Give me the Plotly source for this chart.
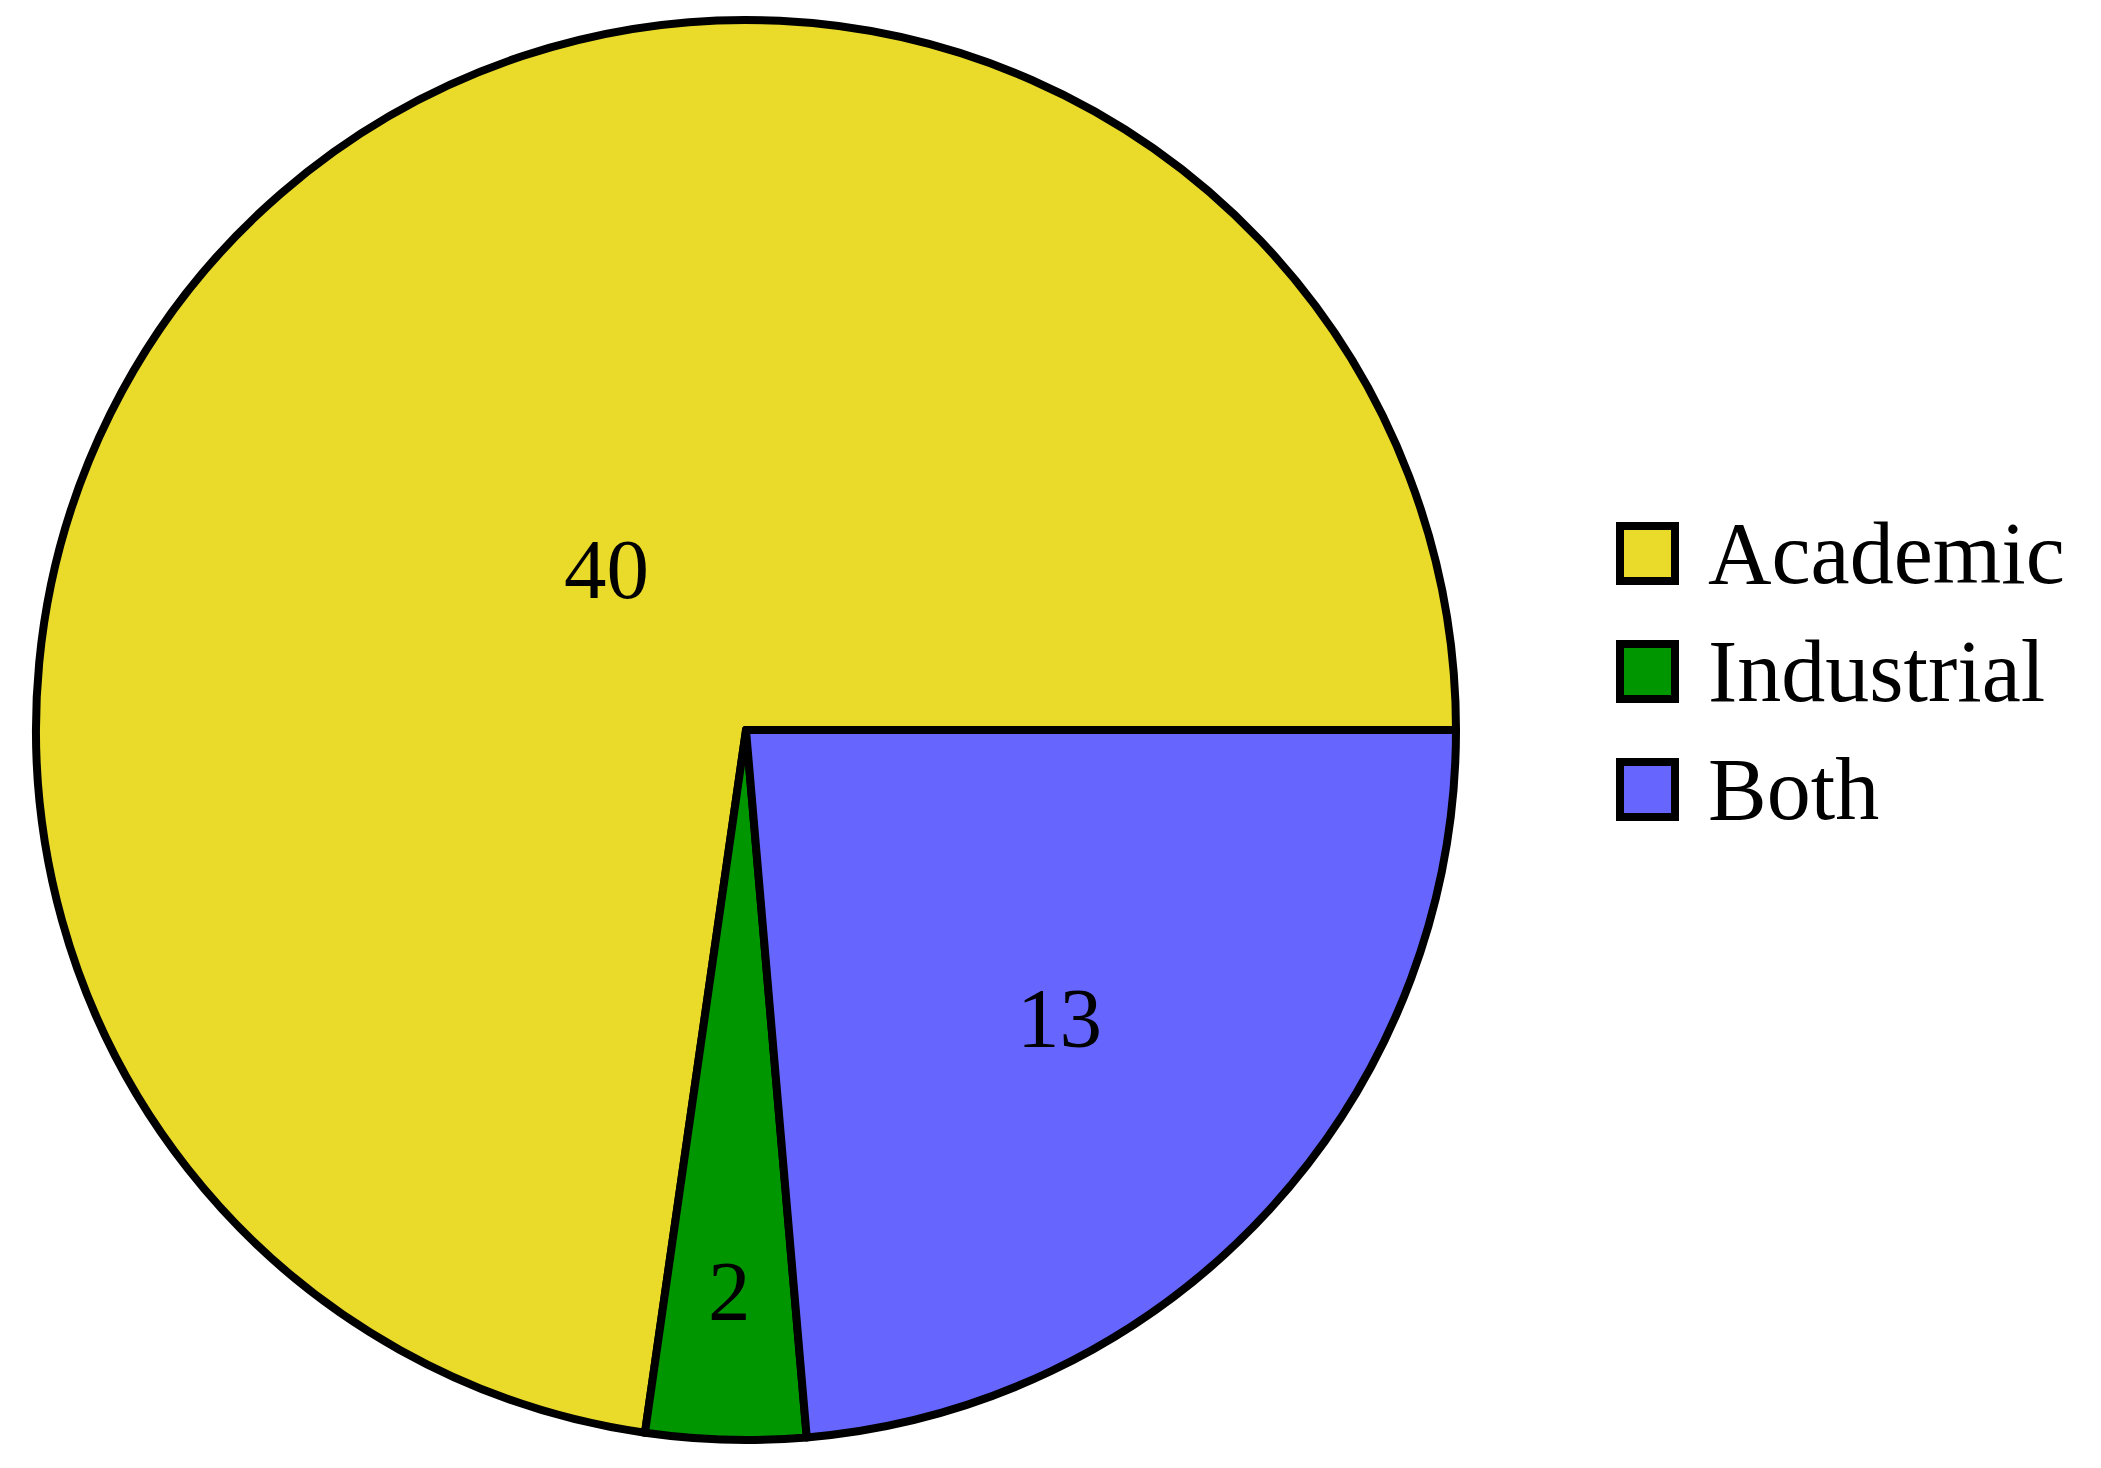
import math
import plotly.graph_objects as go

categories = ["Academic", "Industrial", "Both"]
counts = [40, 2, 13]
colors = ["#EADB2A", "#009600", "#6666FF"]

W, H = 2101, 1468
FONT = "Liberation Serif"
FS_LABEL = 85
FS_LEGEND = 88

# Pie geometry (pixels) -> domain
CX, CY, R = 746, 730, 710
# Radial placement of each value label, as a fraction of the radius
label_frac = [0.30, 0.79, 0.60]

# First slice starts at 3 o'clock and all slices run counterclockwise.
# Plotly's counterclockwise mode places the first slice clockwise of `rotation`,
# so rotate by the first slice's sweep.
total = sum(counts)
first_sweep = 360.0 * counts[0] / total
rot = 90.0 + 360.0 - first_sweep
if rot > 180:
    rot -= 360

fig = go.Figure()
fig.add_trace(go.Pie(
    labels=categories,
    values=counts,
    sort=False,
    direction="counterclockwise",
    rotation=rot,
    marker=dict(colors=colors, line=dict(color="black", width=8)),
    textinfo="none",
    domain=dict(x=[(CX - R) / W, (CX + R) / W], y=[(H - CY - R) / H, (H - CY + R) / H]),
    showlegend=False,
    hoverinfo="label+value",
))

shapes = []
annotations = []

# Value labels at each slice's mid-angle (counterclockwise from 3 o'clock)
cum = 0.0
for v, f in zip(counts, label_frac):
    mid = math.radians(360.0 * (cum + v / 2.0) / total)
    cum += v
    px = CX + f * R * math.cos(mid)
    py = CY - f * R * math.sin(mid)
    annotations.append(dict(
        text=str(v), xref="paper", yref="paper",
        x=px / W, y=1 - py / H,
        xanchor="center", yanchor="middle",
        showarrow=False,
        font=dict(family=FONT, size=FS_LABEL, color="black"),
    ))

# Manual legend (large swatches like the reference)
for i, (name, col) in enumerate(zip(categories, colors)):
    cy = 553.5 + i * 118
    shapes.append(dict(
        type="rect", xref="paper", yref="paper",
        x0=1620 / W, x1=1675 / W,
        y0=1 - (cy - 27.5) / H, y1=1 - (cy + 27.5) / H,
        fillcolor=col, line=dict(color="black", width=8),
    ))
    annotations.append(dict(
        text=name, xref="paper", yref="paper",
        x=1706 / W, y=1 - cy / H,
        xanchor="left", yanchor="middle",
        showarrow=False,
        font=dict(family=FONT, size=FS_LEGEND, color="black"),
    ))

fig.update_layout(
    width=W, height=H,
    margin=dict(l=0, r=0, t=0, b=0),
    paper_bgcolor="white",
    plot_bgcolor="white",
    shapes=shapes,
    annotations=annotations,
    font=dict(family=FONT),
)

fig.write_html(
    "out.html",
    config={"displayModeBar": False},
    post_script="document.body.style.margin='0';",
)
